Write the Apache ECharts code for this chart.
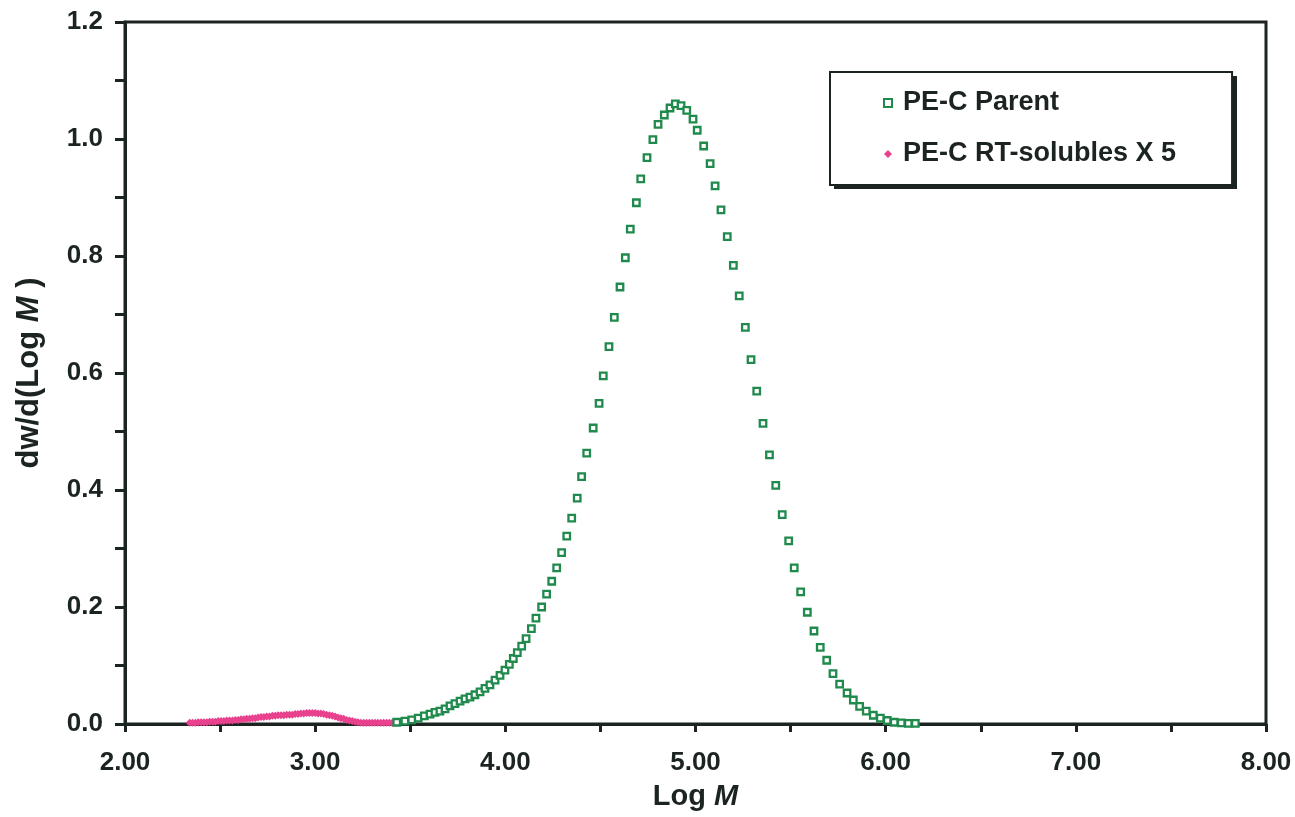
<!DOCTYPE html>
<html>
<head>
<meta charset="utf-8">
<script src="https://cdn.jsdelivr.net/npm/echarts@6/dist/echarts.min.js"></script>
<style>
  html, body { margin: 0; padding: 0; background: #ffffff; }
  #chart { width: 1295px; height: 817px; }
</style>
</head>
<body>
<div id="chart"></div>
<script>
// Molecular weight distribution: PE-C parent resin vs. room-temperature solubles (scaled x5)
const parentLogM = [3.429,3.472,3.508,3.542,3.574,3.604,3.630,3.656,3.683,3.709,3.735,3.762,3.788,3.814,3.840,3.867,3.893,3.919,3.946,3.972,3.998,4.021,4.042,4.063,4.086,4.109,4.137,4.161,4.191,4.217,4.244,4.270,4.296,4.323,4.349,4.378,4.401,4.428,4.462,4.493,4.515,4.545,4.573,4.603,4.631,4.657,4.689,4.712,4.745,4.776,4.803,4.836,4.866,4.894,4.924,4.954,4.987,5.009,5.043,5.077,5.103,5.134,5.167,5.199,5.230,5.262,5.292,5.322,5.355,5.389,5.422,5.456,5.490,5.519,5.553,5.588,5.623,5.656,5.690,5.723,5.758,5.797,5.830,5.863,5.898,5.935,5.972,6.008,6.045,6.082,6.119,6.156];
const parentDw = [0.003,0.005,0.007,0.010,0.014,0.017,0.020,0.022,0.026,0.031,0.035,0.039,0.043,0.046,0.050,0.055,0.061,0.067,0.075,0.083,0.092,0.102,0.112,0.122,0.133,0.146,0.163,0.181,0.200,0.222,0.244,0.267,0.293,0.321,0.352,0.386,0.423,0.463,0.506,0.548,0.595,0.645,0.695,0.747,0.797,0.846,0.891,0.932,0.968,0.999,1.025,1.041,1.053,1.060,1.057,1.049,1.034,1.015,0.988,0.958,0.920,0.879,0.833,0.784,0.732,0.678,0.623,0.569,0.514,0.460,0.408,0.358,0.313,0.267,0.226,0.191,0.159,0.131,0.109,0.086,0.068,0.053,0.041,0.030,0.022,0.015,0.010,0.006,0.003,0.002,0.001,0.001];

const solublesLogM = [2.340,2.355,2.370,2.385,2.400,2.415,2.430,2.445,2.460,2.475,2.490,2.505,2.520,2.535,2.550,2.565,2.580,2.595,2.610,2.625,2.640,2.655,2.670,2.685,2.700,2.715,2.730,2.745,2.760,2.775,2.790,2.805,2.820,2.835,2.850,2.865,2.880,2.895,2.910,2.925,2.940,2.955,2.970,2.985,3.000,3.015,3.030,3.045,3.060,3.075,3.090,3.105,3.120,3.135,3.150,3.165,3.180,3.195,3.210,3.225,3.240,3.255,3.270,3.285,3.300,3.315,3.330,3.345,3.360,3.375,3.390,3.405,3.420];
const solublesDw = [0.002,0.002,0.002,0.003,0.003,0.003,0.003,0.004,0.004,0.004,0.005,0.005,0.005,0.006,0.006,0.006,0.007,0.007,0.008,0.008,0.009,0.009,0.010,0.010,0.011,0.012,0.012,0.013,0.013,0.014,0.014,0.015,0.015,0.015,0.016,0.016,0.016,0.017,0.017,0.018,0.018,0.019,0.019,0.019,0.019,0.018,0.018,0.017,0.016,0.015,0.014,0.013,0.011,0.010,0.009,0.007,0.006,0.005,0.004,0.003,0.002,0.002,0.002,0.002,0.002,0.002,0.002,0.002,0.002,0.002,0.002,0.002,0.002];

const seriesNames = ['PE-C Parent', 'PE-C RT-solubles X 5'];
const xRange = [2, 8];
const yRange = [0, 1.2];

const ink = '#1c2422';
const green = '#1f8a4c';
const pink = '#e8418e';
const font = '"Liberation Sans", Arial, sans-serif';

// legend frame geometry (pixels)
const legendBox = { left: 830, top: 72, width: 403, height: 113 };

function pairs(xs, ys) {
  const n = Math.min(xs.length, ys.length);
  const out = [];
  for (let i = 0; i < n; i++) out.push([xs[i], ys[i]]);
  return out;
}

const chart = echarts.init(document.getElementById('chart'), null, { renderer: 'canvas' });

chart.setOption({
  animation: false,
  backgroundColor: '#ffffff',
  textStyle: { fontFamily: font },
  grid: {
    left: 125, right: 29, top: 22, bottom: 93,
    show: true, borderColor: ink, borderWidth: 3, backgroundColor: 'transparent'
  },
  // drop shadow behind the legend frame
  graphic: [{
    type: 'rect',
    z: 1,
    silent: true,
    shape: { x: legendBox.left + 4, y: legendBox.top + 4, width: legendBox.width, height: legendBox.height },
    style: { fill: ink }
  }],
  legend: {
    orient: 'vertical',
    left: legendBox.left, top: legendBox.top,
    z: 10,
    padding: [16, 56, 16, 53],
    itemGap: 21,
    itemWidth: 8, itemHeight: 8,
    backgroundColor: '#ffffff',
    borderColor: ink, borderWidth: 2,
    textStyle: { fontFamily: font, fontSize: 27, fontWeight: 'bold', color: ink, lineHeight: 30, padding: [0, 0, 0, 6] },
    data: seriesNames
  },
  xAxis: {
    type: 'value',
    min: xRange[0], max: xRange[1], interval: 0.5,
    name: '{n|Log }{i|M}',
    nameLocation: 'middle', nameGap: 58,
    nameTextStyle: {
      rich: {
        n: { fontFamily: font, fontSize: 29, fontWeight: 'bold', color: ink },
        i: { fontFamily: font, fontSize: 29, fontWeight: 'bold', fontStyle: 'italic', color: ink }
      }
    },
    splitLine: { show: false },
    axisLine: { show: true, onZero: false, lineStyle: { color: ink, width: 3 } },
    axisTick: { show: true, inside: false, length: 8, lineStyle: { color: ink, width: 3 } },
    axisLabel: {
      margin: 26,
      fontFamily: font, fontSize: 26, fontWeight: 'bold', color: ink,
      showMinLabel: true, showMaxLabel: true,
      formatter: function (v) {
        return Math.abs(v - Math.round(v)) < 1e-6 ? v.toFixed(2) : '';
      }
    }
  },
  yAxis: {
    type: 'value',
    min: yRange[0], max: yRange[1], interval: 0.1,
    name: '{n|dw/d(Log }{i|M}{n| )}',
    nameLocation: 'middle', nameGap: 80, nameRotate: 90,
    nameTextStyle: {
      rich: {
        n: { fontFamily: font, fontSize: 31, fontWeight: 'bold', color: ink },
        i: { fontFamily: font, fontSize: 31, fontWeight: 'bold', fontStyle: 'italic', color: ink }
      }
    },
    splitLine: { show: false },
    axisLine: { show: true, onZero: false, lineStyle: { color: ink, width: 3 } },
    axisTick: { show: true, inside: false, length: 10, lineStyle: { color: ink, width: 3 } },
    axisLabel: {
      margin: 22,
      fontFamily: font, fontSize: 26, fontWeight: 'bold', color: ink,
      showMinLabel: true, showMaxLabel: true,
      formatter: function (v) {
        return Math.round(v * 10) % 2 === 0 ? v.toFixed(1) : '';
      }
    }
  },
  series: [
    {
      name: seriesNames[0],
      type: 'scatter',
      symbol: 'rect',
      symbolSize: 6.5,
      z: 3,
      itemStyle: { color: '#ffffff', borderColor: green, borderWidth: 2.3, opacity: 1 },
      emphasis: { disabled: true },
      data: pairs(parentLogM, parentDw)
    },
    {
      name: seriesNames[1],
      type: 'scatter',
      symbol: 'diamond',
      symbolSize: 8,
      z: 2,
      itemStyle: { color: pink, opacity: 1 },
      emphasis: { disabled: true },
      data: pairs(solublesLogM, solublesDw)
    }
  ]
});
</script>
</body>
</html>
